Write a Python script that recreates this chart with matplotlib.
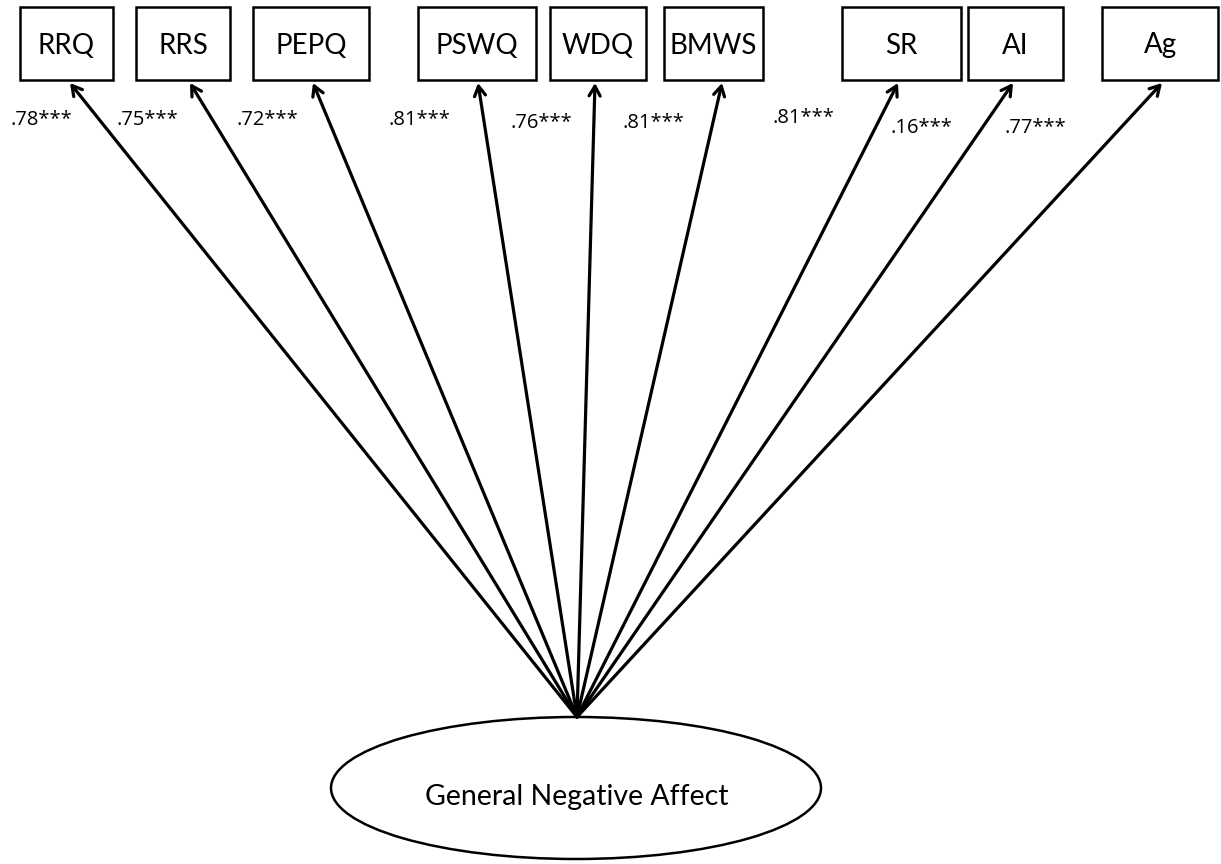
import matplotlib.pyplot as plt
from matplotlib.patches import Rectangle, Ellipse

# Indicators and loadings
indicators = ['RRQ', 'RRS', 'PEPQ', 'PSWQ', 'WDQ', 'BMWS', 'SR', 'AI', 'Ag']
loadings = ['.78***', '.75***', '.72***', '.81***', '.76***', '.81***', '.81***', '.16***', '.77***']
factor = 'General Negative Affect'

# Layout (pixels, y pointing down)
box_left = [20, 136, 253, 418, 550, 664, 842, 968, 1102]
box_right = [113, 230, 369, 536, 646, 763, 961, 1063, 1218]
tip_x = [70, 190, 313, 478, 595, 722, 898, 1013, 1162]
lab_x = [10, 117, 237, 388, 510, 623, 772, 890, 1005]
lab_y = [120, 120, 120, 120, 123, 123, 118, 128, 128]
box_top, box_bottom, tip_y = 7, 80, 83
apex = (577, 717)

plt.rcParams['font.family'] = ['Lato', 'DejaVu Sans']

fig = plt.figure(figsize=(12.21, 8.64), dpi=100)
ax = fig.add_axes([0, 0, 1, 1])
ax.set_xlim(0, 1221)
ax.set_ylim(864, 0)
ax.axis('off')

for i, name in enumerate(indicators):
    x0, x1 = box_left[i], box_right[i]
    ax.add_patch(Rectangle((x0, box_top), x1 - x0, box_bottom - box_top,
                           facecolor='white', edgecolor='black', lw=1.8))
    ax.text((x0 + x1) / 2, (box_top + box_bottom) / 2 + 2, name,
            ha='center', va='center', fontsize=20)
    ax.annotate('', xy=(tip_x[i], tip_y), xytext=apex,
                arrowprops=dict(arrowstyle='->,head_length=0.7,head_width=0.4',
                                lw=2.3, color='black', shrinkA=0, shrinkB=0))
    ax.text(lab_x[i], lab_y[i], loadings[i], ha='left', va='center',
            fontsize=14.5, family=['Open Sans', 'DejaVu Sans'])

# Latent factor
ax.add_patch(Ellipse((576, 788), 490, 142, facecolor='white', edgecolor='black', lw=1.8))
ax.text(577, 797, factor, ha='center', va='center', fontsize=20.5)

plt.savefig('out.png', dpi=100)
